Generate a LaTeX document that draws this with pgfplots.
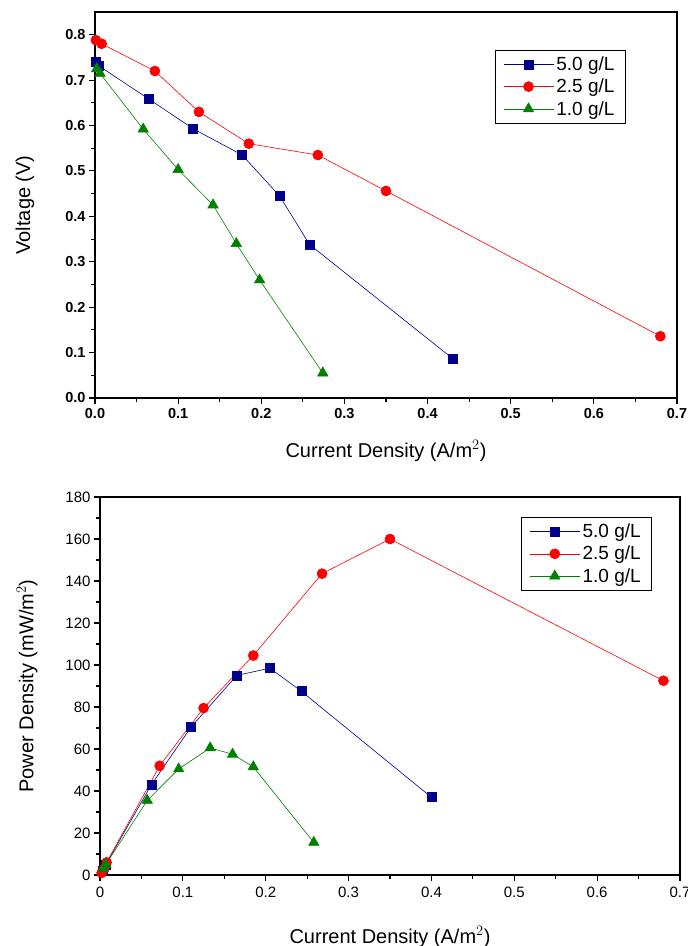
\documentclass[border=0pt]{standalone}
\usepackage{pgfplots}
\pgfplotsset{compat=1.18}
\usepackage{fontspec}
\setmainfont{Liberation Sans}
\definecolor{navy}{RGB}{0,0,139}
\definecolor{dgreen}{RGB}{0,128,0}
\begin{document}
\begin{tikzpicture}
\path[use as bounding box] (0pt,0pt) rectangle (688pt,946pt);
\pgfplotsset{
  common/.style={
    scale only axis,
    anchor=south west,
    xmin=0, xmax=0.7,
    xtick={0,0.1,...,0.7},
    minor x tick num=1,
    xtick pos=left, ytick pos=left,
    tick align=outside,
    axis line style={line width=1.4pt},
    major tick style={line width=1.1pt, black},
    minor tick style={line width=1.1pt, black},
    major tick length=6pt, minor tick length=4pt,
    /pgf/number format/assume math mode=true,
    /pgf/number format/fixed,
    /pgf/number format/precision=1,
    every axis plot/.append style={line width=0.6pt},
    legend cell align=left,
    legend image code/.code={\draw[mark repeat=2,mark phase=2] plot coordinates {(0pt,0pt) (25pt,0pt) (50pt,0pt)};},
    legend style={draw=black, line width=0.8pt, font=\fontsize{19}{21}\selectfont,
      inner xsep=8pt, inner ysep=4pt, row sep=2pt,
      nodes={inner sep=2.5pt}},
  },
  s5/.style={navy, mark=square*, mark size=4.5pt, mark options={solid, fill=navy}},
  s25/.style={red, mark=*, mark size=5pt, mark options={solid, fill=red}},
  s1/.style={dgreen, mark=triangle*, mark size=6pt, mark options={solid, fill=dgreen}},
}
\begin{axis}[common,
  at={(95pt,548pt)}, width=582pt, height=386pt,
  ymin=0, ymax=0.85,
  ytick={0,0.1,...,0.8}, minor y tick num=1,
  /pgf/number format/fixed zerofill,
  tick label style={font=\fontsize{14.5}{16}\selectfont\bfseries},
  xticklabel style={yshift=-1pt},
  xlabel={Current Density (A/m$^{2}$)},
  ylabel={Voltage (V)},
  every axis x label/.style={at={(axis description cs:0.5,0)}, anchor=center, yshift=-53pt, font=\fontsize{20}{24}\selectfont},
  every axis y label/.style={at={(axis description cs:0,0.5)}, anchor=center, rotate=90, yshift=70pt, font=\fontsize{20}{24}\selectfont},
  legend style={at={(0.687,0.902)}, anchor=north west},
]
\addplot+[s5] coordinates {(0.001,0.74) (0.005,0.731) (0.065,0.658) (0.118,0.593) (0.177,0.535) (0.222,0.445) (0.258,0.338) (0.43,0.087)};
\addlegendentry{5.0 g/L}
\addplot+[s25] coordinates {(0.001,0.788) (0.008,0.78) (0.072,0.72) (0.125,0.63) (0.185,0.56) (0.268,0.535) (0.35,0.456) (0.68,0.136)};
\addlegendentry{2.5 g/L}
\addplot+[s1] coordinates {(0.002,0.725) (0.006,0.715) (0.058,0.592) (0.1,0.503) (0.142,0.425) (0.17,0.34) (0.198,0.26) (0.274,0.055)};
\addlegendentry{1.0 g/L}
\end{axis}
\begin{axis}[common,
  at={(100pt,71pt)}, width=580pt, height=378pt,
  ymin=0, ymax=180,
  ytick={0,20,...,180}, minor y tick num=1,
  tick label style={font=\fontsize{15}{17}\selectfont},
  yticklabel={\pgfmathprintnumber[precision=0]{\tick}},
  xticklabel style={yshift=-2pt},
  xlabel={Current Density (A/m$^{2}$)},
  ylabel={Power Density (mW/m$^{2}$)},
  every axis x label/.style={at={(axis description cs:0.5,0)}, anchor=center, yshift=-62pt, font=\fontsize{20}{24}\selectfont},
  every axis y label/.style={at={(axis description cs:0,0.5)}, anchor=center, rotate=90, yshift=73pt, font=\fontsize{20}{24}\selectfont},
  legend style={at={(0.726,0.947)}, anchor=north west},
]
\addplot+[s5] coordinates {(0.003,2) (0.007,5) (0.062,43) (0.11,70.5) (0.165,95) (0.205,98.5) (0.243,87.5) (0.40,37)};
\addlegendentry{5.0 g/L}
\addplot+[s25] coordinates {(0.002,1) (0.005,3) (0.008,6) (0.072,52) (0.125,79.5) (0.185,104.5) (0.268,143.5) (0.35,160) (0.68,92.5)};
\addlegendentry{2.5 g/L}
\addplot+[s1] coordinates {(0.004,3) (0.007,5) (0.057,35.5) (0.095,50.5) (0.133,60.5) (0.16,57.5) (0.185,51.5) (0.258,15.5)};
\addlegendentry{1.0 g/L}
\end{axis}
\end{tikzpicture}
\end{document}
